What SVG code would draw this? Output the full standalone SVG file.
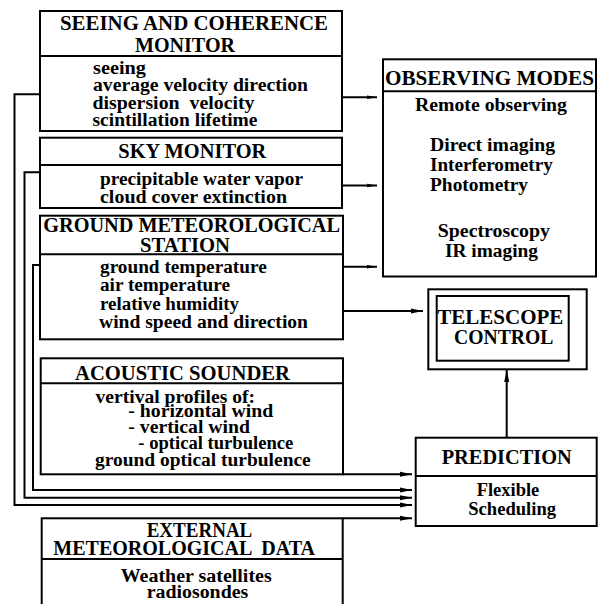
<svg xmlns="http://www.w3.org/2000/svg" width="598" height="604" viewBox="0 0 598 604">
<defs>
<style>
.box{fill:#fff;stroke:#000;stroke-width:2}
.div{stroke:#000;stroke-width:2}
.con{fill:none;stroke:#000;stroke-width:2}
text{font-family:"Liberation Serif","Times New Roman",serif;font-weight:bold;fill:#000}
.h{font-size:21px}
.b{font-size:18px}
</style>
<marker id="ah" markerUnits="userSpaceOnUse" markerWidth="13" markerHeight="6" refX="12" refY="3" orient="auto">
<path d="M0,0.5 L12,3 L0,5.5 z" fill="#000"/>
</marker>
<marker id="as" markerUnits="userSpaceOnUse" markerWidth="12" markerHeight="5" refX="10" refY="2.5" orient="auto">
<path d="M0,0.7 L10,2.5 L0,4.3 z" fill="#000"/>
</marker>
</defs>
<rect width="598" height="604" fill="#fff"/>

<g id="connectors">
<path class="con" d="M40,94.3 H14.5 V505 H412" marker-end="url(#ah)"/>
<path class="con" d="M40,172.3 H24.5 V497.7 H412" marker-end="url(#ah)"/>
<path class="con" d="M40,265 H33 V490 H412" marker-end="url(#ah)"/>
<path class="con" d="M343,474.3 H412" marker-end="url(#ah)"/>
<path class="con" d="M343,518.3 H412" marker-end="url(#ah)"/>
<path class="con" d="M342,97.3 H377" marker-end="url(#as)"/>
<path class="con" d="M342,185.5 H377" marker-end="url(#as)"/>
<path class="con" d="M343,266.7 H377" marker-end="url(#as)"/>
<path class="con" d="M343,311 H423" marker-end="url(#ah)"/>
<path class="con" d="M506.7,437.7 V370" marker-end="url(#ah)"/>
</g>

<g id="seeing-monitor">
<rect class="box" x="40" y="11" width="302" height="120"/>
<line class="div" x1="40" y1="56" x2="342" y2="56"/>
<text class="h" x="60" y="30" textLength="268" lengthAdjust="spacingAndGlyphs">SEEING AND COHERENCE</text>
<text class="h" x="135" y="51.7" textLength="100" lengthAdjust="spacingAndGlyphs">MONITOR</text>
<text class="b" x="93" y="74" textLength="53" lengthAdjust="spacingAndGlyphs">seeing</text>
<text class="b" x="93" y="91" textLength="215" lengthAdjust="spacingAndGlyphs">average velocity direction</text>
<text class="b" x="92.5" y="108.5" textLength="162" lengthAdjust="spacingAndGlyphs" xml:space="preserve">dispersion  velocity</text>
<text class="b" x="92.5" y="126.3" textLength="165" lengthAdjust="spacingAndGlyphs">scintillation lifetime</text>
</g>

<g id="sky-monitor">
<rect class="box" x="40" y="137.7" width="302" height="70.3"/>
<line class="div" x1="40" y1="165" x2="342" y2="165"/>
<text class="h" x="118.3" y="158.3" textLength="148" lengthAdjust="spacingAndGlyphs">SKY MONITOR</text>
<text class="b" x="100" y="185" textLength="203" lengthAdjust="spacingAndGlyphs">precipitable water vapor</text>
<text class="b" x="100" y="203.3" textLength="187" lengthAdjust="spacingAndGlyphs">cloud cover extinction</text>
</g>

<g id="ground-station">
<rect class="box" x="40" y="215.7" width="303" height="123.6"/>
<line class="div" x1="40" y1="254.3" x2="343" y2="254.3"/>
<text class="h" x="43.3" y="231.7" textLength="296.7" lengthAdjust="spacingAndGlyphs">GROUND METEOROLOGICAL</text>
<text class="h" x="140" y="251.7" textLength="90" lengthAdjust="spacingAndGlyphs">STATION</text>
<text class="b" x="100" y="272.7" textLength="166.7" lengthAdjust="spacingAndGlyphs">ground temperature</text>
<text class="b" x="100" y="290.7" textLength="130" lengthAdjust="spacingAndGlyphs">air temperature</text>
<text class="b" x="100" y="310" textLength="139" lengthAdjust="spacingAndGlyphs">relative humidity</text>
<text class="b" x="99" y="328.3" textLength="209" lengthAdjust="spacingAndGlyphs">wind speed and direction</text>
</g>

<g id="acoustic-sounder">
<rect class="box" x="40.7" y="358.3" width="302.3" height="116"/>
<line class="div" x1="40.7" y1="383.3" x2="343" y2="383.3"/>
<text class="h" x="75" y="380" textLength="215" lengthAdjust="spacingAndGlyphs">ACOUSTIC SOUNDER</text>
<text class="b" x="95.5" y="403.3" textLength="159.5" lengthAdjust="spacingAndGlyphs">vertival profiles of:</text>
<text class="b" x="128.3" y="417" textLength="145" lengthAdjust="spacingAndGlyphs">- horizontal wind</text>
<text class="b" x="128.3" y="433.3" textLength="121.7" lengthAdjust="spacingAndGlyphs">- vertical wind</text>
<text class="b" x="138.3" y="448.5" textLength="155" lengthAdjust="spacingAndGlyphs">- optical turbulence</text>
<text class="b" x="95" y="465.5" textLength="215.7" lengthAdjust="spacingAndGlyphs">ground optical turbulence</text>
</g>

<g id="external-data">
<rect class="box" x="41.7" y="518.3" width="301" height="100"/>
<line class="div" x1="41.7" y1="559" x2="342.7" y2="559"/>
<text class="h" x="146.7" y="536.7" textLength="105.6" lengthAdjust="spacingAndGlyphs">EXTERNAL</text>
<text class="h" x="53.3" y="555" textLength="261.7" lengthAdjust="spacingAndGlyphs" xml:space="preserve">METEOROLOGICAL  DATA</text>
<text class="b" x="120.7" y="581.7" textLength="151" lengthAdjust="spacingAndGlyphs">Weather satellites</text>
<text class="b" x="146.7" y="598.3" textLength="101.6" lengthAdjust="spacingAndGlyphs">radiosondes</text>
</g>

<g id="observing-modes">
<rect class="box" x="383" y="59.3" width="213" height="217.2"/>
<line class="div" x1="383" y1="91.3" x2="596" y2="91.3"/>
<text class="h" x="385" y="85" textLength="209" lengthAdjust="spacingAndGlyphs">OBSERVING MODES</text>
<text class="b" x="415" y="111" textLength="152" lengthAdjust="spacingAndGlyphs">Remote observing</text>
<text class="b" x="430" y="150.5" textLength="125" lengthAdjust="spacingAndGlyphs">Direct imaging</text>
<text class="b" x="430" y="171" textLength="122.7" lengthAdjust="spacingAndGlyphs">Interferometry</text>
<text class="b" x="430" y="191" textLength="98" lengthAdjust="spacingAndGlyphs">Photometry</text>
<text class="b" x="437.7" y="236.5" textLength="112.3" lengthAdjust="spacingAndGlyphs">Spectroscopy</text>
<text class="b" x="445" y="256.5" textLength="93" lengthAdjust="spacingAndGlyphs">IR imaging</text>
</g>

<g id="telescope-control">
<rect class="box" x="428.3" y="289.3" width="158.4" height="80"/>
<rect class="box" x="436.7" y="296" width="132" height="64.7"/>
<text class="h" x="437.3" y="324" textLength="126" lengthAdjust="spacingAndGlyphs">TELESCOPE</text>
<text class="h" x="454" y="344" textLength="99.3" lengthAdjust="spacingAndGlyphs">CONTROL</text>
</g>

<g id="prediction">
<rect class="box" x="415.7" y="437.7" width="181" height="88.3"/>
<line class="div" x1="415.7" y1="476" x2="596.7" y2="476"/>
<text class="h" x="441.7" y="464" textLength="130" lengthAdjust="spacingAndGlyphs">PREDICTION</text>
<text class="b" x="476.7" y="496" textLength="62.6" lengthAdjust="spacingAndGlyphs">Flexible</text>
<text class="b" x="468.3" y="515" textLength="87.7" lengthAdjust="spacingAndGlyphs">Scheduling</text>
</g>
</svg>
